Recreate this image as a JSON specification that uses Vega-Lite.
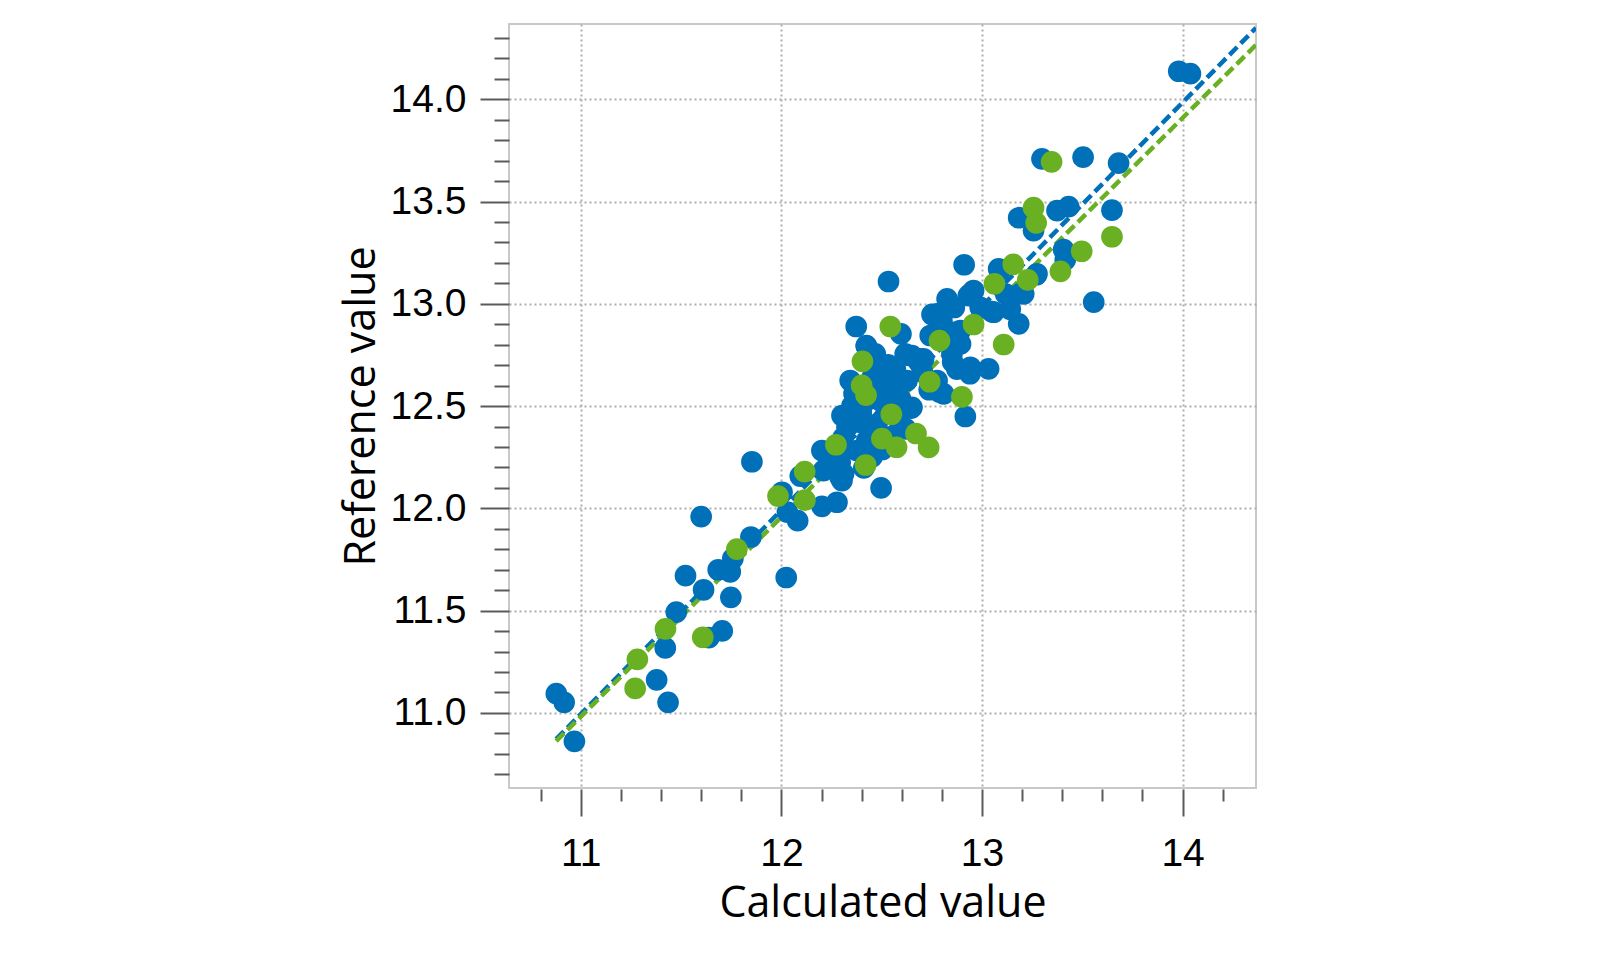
{
  "$schema": "https://vega.github.io/schema/vega-lite/v6.json",
  "width": 747,
  "height": 764,
  "autosize": {"type": "none"},
  "padding": {"left": 509, "top": 24, "right": 344, "bottom": 172},
  "background": "white",
  "config": {
    "view": {"stroke": "#c9c9c9", "strokeWidth": 2},
    "axis": {"domain": false, "titleFontWeight": "normal"}
  },
  "layer": [
    {
      "data": {
        "values": [
          {"set": "calibration", "x": 10.877, "y": 10.872},
          {"set": "calibration", "x": 14.366, "y": 14.349},
          {"set": "validation", "x": 10.877, "y": 10.862},
          {"set": "validation", "x": 14.366, "y": 14.266}
        ]
      },
      "mark": {"type": "line", "strokeDash": [11, 5], "strokeWidth": 4.5, "clip": true},
      "encoding": {
        "x": {
          "field": "x", "type": "quantitative",
          "scale": {"domain": [10.642, 14.366], "nice": false, "zero": false},
          "axis": {
            "orient": "bottom", "offset": 1,
            "values": [11, 12, 13, 14], "format": "d",
            "tickSize": 27, "tickWidth": 2, "tickColor": "#5a5a5a",
            "labelFont": "Liberation Sans", "labelFontSize": 39, "labelColor": "#000000", "labelPadding": 18,
            "grid": true, "gridColor": "#adadad", "gridWidth": 2, "gridDash": [2, 3],
            "title": "Calculated value", "titleFont": "Open Sans", "titleFontSize": 43, "titleColor": "#000000", "titlePadding": 9
          }
        },
        "y": {
          "field": "y", "type": "quantitative",
          "scale": {"domain": [10.633, 14.368], "nice": false, "zero": false},
          "axis": {
            "orient": "left", "offset": 0,
            "values": [11, 11.5, 12, 12.5, 13, 13.5, 14], "format": ".1f",
            "tickSize": 29, "tickWidth": 2, "tickColor": "#5a5a5a",
            "labelFont": "Liberation Sans", "labelFontSize": 39, "labelColor": "#000000", "labelPadding": 14,
            "grid": true, "gridColor": "#adadad", "gridWidth": 2, "gridDash": [2, 3],
            "title": "Reference value", "titleFont": "Open Sans", "titleFontSize": 43, "titleColor": "#000000", "titlePadding": 7
          }
        },
        "color": {
          "field": "set", "type": "nominal",
          "scale": {"domain": ["calibration", "validation"], "range": ["#0070b9", "#6ab023"]},
          "legend": null
        }
      }
    },
    {
      "data": {
        "values": [
          {"set": "calibration", "x": 10.878, "y": 11.094},
          {"set": "calibration", "x": 10.917, "y": 11.052},
          {"set": "calibration", "x": 10.968, "y": 10.861},
          {"set": "calibration", "x": 11.378, "y": 11.162},
          {"set": "calibration", "x": 11.435, "y": 11.052},
          {"set": "calibration", "x": 11.421, "y": 11.318},
          {"set": "calibration", "x": 11.476, "y": 11.493},
          {"set": "calibration", "x": 11.522, "y": 11.671},
          {"set": "calibration", "x": 11.612, "y": 11.602},
          {"set": "calibration", "x": 11.638, "y": 11.368},
          {"set": "calibration", "x": 11.705, "y": 11.401},
          {"set": "calibration", "x": 11.748, "y": 11.565},
          {"set": "calibration", "x": 11.600, "y": 11.960},
          {"set": "calibration", "x": 11.685, "y": 11.700},
          {"set": "calibration", "x": 11.745, "y": 11.690},
          {"set": "calibration", "x": 11.758, "y": 11.755},
          {"set": "calibration", "x": 11.848, "y": 11.860},
          {"set": "calibration", "x": 11.853, "y": 12.228},
          {"set": "calibration", "x": 12.024, "y": 11.662},
          {"set": "calibration", "x": 12.003, "y": 12.079},
          {"set": "calibration", "x": 12.030, "y": 11.982},
          {"set": "calibration", "x": 12.081, "y": 11.940},
          {"set": "calibration", "x": 12.094, "y": 12.158},
          {"set": "calibration", "x": 12.202, "y": 12.010},
          {"set": "calibration", "x": 12.277, "y": 12.030},
          {"set": "calibration", "x": 12.202, "y": 12.283},
          {"set": "calibration", "x": 12.210, "y": 12.185},
          {"set": "calibration", "x": 12.260, "y": 12.234},
          {"set": "calibration", "x": 12.293, "y": 12.152},
          {"set": "calibration", "x": 12.293, "y": 12.225},
          {"set": "calibration", "x": 12.310, "y": 12.169},
          {"set": "calibration", "x": 12.302, "y": 12.136},
          {"set": "calibration", "x": 12.227, "y": 12.200},
          {"set": "calibration", "x": 12.343, "y": 12.429},
          {"set": "calibration", "x": 12.302, "y": 12.454},
          {"set": "calibration", "x": 12.360, "y": 12.462},
          {"set": "calibration", "x": 12.409, "y": 12.429},
          {"set": "calibration", "x": 12.327, "y": 12.397},
          {"set": "calibration", "x": 12.476, "y": 12.405},
          {"set": "calibration", "x": 12.593, "y": 12.405},
          {"set": "calibration", "x": 12.426, "y": 12.332},
          {"set": "calibration", "x": 12.377, "y": 12.283},
          {"set": "calibration", "x": 12.493, "y": 12.299},
          {"set": "calibration", "x": 12.497, "y": 12.100},
          {"set": "calibration", "x": 12.411, "y": 12.198},
          {"set": "calibration", "x": 12.443, "y": 12.535},
          {"set": "calibration", "x": 12.493, "y": 12.527},
          {"set": "calibration", "x": 12.651, "y": 12.494},
          {"set": "calibration", "x": 12.343, "y": 12.625},
          {"set": "calibration", "x": 12.509, "y": 12.674},
          {"set": "calibration", "x": 12.543, "y": 12.609},
          {"set": "calibration", "x": 12.626, "y": 12.625},
          {"set": "calibration", "x": 12.373, "y": 12.889},
          {"set": "calibration", "x": 12.596, "y": 12.853},
          {"set": "calibration", "x": 12.423, "y": 12.796},
          {"set": "calibration", "x": 12.468, "y": 12.755},
          {"set": "calibration", "x": 12.617, "y": 12.755},
          {"set": "calibration", "x": 12.692, "y": 12.731},
          {"set": "calibration", "x": 12.534, "y": 13.109},
          {"set": "calibration", "x": 12.911, "y": 13.191},
          {"set": "calibration", "x": 12.776, "y": 12.951},
          {"set": "calibration", "x": 12.826, "y": 13.024},
          {"set": "calibration", "x": 12.942, "y": 13.049},
          {"set": "calibration", "x": 12.751, "y": 12.948},
          {"set": "calibration", "x": 12.742, "y": 12.845},
          {"set": "calibration", "x": 12.850, "y": 12.755},
          {"set": "calibration", "x": 12.942, "y": 12.690},
          {"set": "calibration", "x": 13.033, "y": 12.682},
          {"set": "calibration", "x": 12.709, "y": 12.731},
          {"set": "calibration", "x": 12.651, "y": 12.747},
          {"set": "calibration", "x": 12.776, "y": 12.625},
          {"set": "calibration", "x": 12.809, "y": 12.560},
          {"set": "calibration", "x": 12.917, "y": 12.449},
          {"set": "calibration", "x": 12.789, "y": 12.569},
          {"set": "calibration", "x": 12.737, "y": 12.580},
          {"set": "calibration", "x": 12.854, "y": 12.715},
          {"set": "calibration", "x": 12.875, "y": 12.681},
          {"set": "calibration", "x": 12.940, "y": 12.658},
          {"set": "calibration", "x": 12.800, "y": 12.918},
          {"set": "calibration", "x": 12.892, "y": 12.869},
          {"set": "calibration", "x": 12.958, "y": 13.065},
          {"set": "calibration", "x": 12.991, "y": 12.983},
          {"set": "calibration", "x": 13.058, "y": 12.959},
          {"set": "calibration", "x": 13.083, "y": 13.171},
          {"set": "calibration", "x": 13.183, "y": 12.902},
          {"set": "calibration", "x": 13.208, "y": 13.049},
          {"set": "calibration", "x": 13.141, "y": 12.973},
          {"set": "calibration", "x": 13.274, "y": 13.147},
          {"set": "calibration", "x": 13.407, "y": 13.265},
          {"set": "calibration", "x": 13.415, "y": 13.215},
          {"set": "calibration", "x": 13.557, "y": 13.008},
          {"set": "calibration", "x": 13.183, "y": 13.421},
          {"set": "calibration", "x": 13.257, "y": 13.358},
          {"set": "calibration", "x": 13.374, "y": 13.456},
          {"set": "calibration", "x": 13.432, "y": 13.475},
          {"set": "calibration", "x": 13.648, "y": 13.458},
          {"set": "calibration", "x": 13.299, "y": 13.709},
          {"set": "calibration", "x": 13.504, "y": 13.717},
          {"set": "calibration", "x": 13.681, "y": 13.688},
          {"set": "calibration", "x": 13.981, "y": 14.137},
          {"set": "calibration", "x": 14.039, "y": 14.125},
          {"set": "calibration", "x": 12.620, "y": 12.389},
          {"set": "calibration", "x": 12.594, "y": 12.535},
          {"set": "calibration", "x": 12.646, "y": 12.490},
          {"set": "calibration", "x": 12.568, "y": 12.591},
          {"set": "calibration", "x": 12.516, "y": 12.636},
          {"set": "calibration", "x": 12.461, "y": 12.389},
          {"set": "calibration", "x": 12.385, "y": 12.422},
          {"set": "calibration", "x": 12.451, "y": 12.636},
          {"set": "calibration", "x": 12.568, "y": 12.681},
          {"set": "calibration", "x": 12.424, "y": 12.793},
          {"set": "calibration", "x": 12.503, "y": 12.524},
          {"set": "calibration", "x": 12.307, "y": 12.344},
          {"set": "calibration", "x": 12.294, "y": 12.288},
          {"set": "calibration", "x": 12.255, "y": 12.209},
          {"set": "calibration", "x": 12.438, "y": 12.310},
          {"set": "calibration", "x": 12.503, "y": 12.288},
          {"set": "calibration", "x": 12.854, "y": 12.861},
          {"set": "calibration", "x": 12.893, "y": 12.804},
          {"set": "calibration", "x": 12.685, "y": 12.715},
          {"set": "calibration", "x": 12.633, "y": 12.748},
          {"set": "calibration", "x": 13.049, "y": 12.962},
          {"set": "calibration", "x": 13.193, "y": 13.052},
          {"set": "calibration", "x": 13.089, "y": 13.164},
          {"set": "calibration", "x": 13.271, "y": 13.142},
          {"set": "calibration", "x": 12.932, "y": 13.040},
          {"set": "calibration", "x": 12.352, "y": 12.502},
          {"set": "calibration", "x": 12.398, "y": 12.474},
          {"set": "calibration", "x": 12.462, "y": 12.583},
          {"set": "calibration", "x": 12.521, "y": 12.462},
          {"set": "calibration", "x": 12.558, "y": 12.518},
          {"set": "calibration", "x": 12.532, "y": 12.702},
          {"set": "calibration", "x": 12.603, "y": 12.621},
          {"set": "calibration", "x": 12.482, "y": 12.681},
          {"set": "calibration", "x": 12.362, "y": 12.561},
          {"set": "calibration", "x": 12.452, "y": 12.252},
          {"set": "calibration", "x": 12.553, "y": 12.352},
          {"set": "calibration", "x": 12.702, "y": 12.668},
          {"set": "calibration", "x": 12.862, "y": 12.982},
          {"set": "calibration", "x": 13.118, "y": 13.048},
          {"set": "validation", "x": 11.271, "y": 11.120},
          {"set": "validation", "x": 11.282, "y": 11.262},
          {"set": "validation", "x": 11.422, "y": 11.411},
          {"set": "validation", "x": 11.608, "y": 11.370},
          {"set": "validation", "x": 11.778, "y": 11.801},
          {"set": "validation", "x": 11.983, "y": 12.060},
          {"set": "validation", "x": 12.117, "y": 12.040},
          {"set": "validation", "x": 12.116, "y": 12.180},
          {"set": "validation", "x": 12.272, "y": 12.311},
          {"set": "validation", "x": 12.420, "y": 12.212},
          {"set": "validation", "x": 12.404, "y": 12.719},
          {"set": "validation", "x": 12.400, "y": 12.601},
          {"set": "validation", "x": 12.422, "y": 12.554},
          {"set": "validation", "x": 12.543, "y": 12.889},
          {"set": "validation", "x": 12.548, "y": 12.460},
          {"set": "validation", "x": 12.501, "y": 12.341},
          {"set": "validation", "x": 12.574, "y": 12.299},
          {"set": "validation", "x": 12.671, "y": 12.366},
          {"set": "validation", "x": 12.734, "y": 12.298},
          {"set": "validation", "x": 12.739, "y": 12.619},
          {"set": "validation", "x": 12.788, "y": 12.820},
          {"set": "validation", "x": 12.900, "y": 12.545},
          {"set": "validation", "x": 12.958, "y": 12.899},
          {"set": "validation", "x": 13.108, "y": 12.801},
          {"set": "validation", "x": 13.062, "y": 13.098},
          {"set": "validation", "x": 13.156, "y": 13.193},
          {"set": "validation", "x": 13.228, "y": 13.117},
          {"set": "validation", "x": 13.391, "y": 13.159},
          {"set": "validation", "x": 13.497, "y": 13.257},
          {"set": "validation", "x": 13.648, "y": 13.328},
          {"set": "validation", "x": 13.257, "y": 13.470},
          {"set": "validation", "x": 13.270, "y": 13.396},
          {"set": "validation", "x": 13.347, "y": 13.694}
        ]
      },
      "mark": {"type": "point", "filled": true, "opacity": 1, "size": 470, "shape": "circle"},
      "encoding": {
        "x": {
          "field": "x", "type": "quantitative",
          "axis": {
            "orient": "bottom", "offset": 1,
            "values": [10.8, 11.2, 11.4, 11.6, 11.8, 12.2, 12.4, 12.6, 12.8, 13.2, 13.4, 13.6, 13.8, 14.2],
            "tickSize": 12, "tickWidth": 2, "tickColor": "#5a5a5a",
            "labels": false, "grid": false, "title": null
          }
        },
        "y": {
          "field": "y", "type": "quantitative",
          "axis": {
            "orient": "left", "offset": 0,
            "values": [10.7, 10.8, 10.9, 11.1, 11.2, 11.3, 11.4, 11.6, 11.7, 11.8, 11.9, 12.1, 12.2, 12.3, 12.4, 12.6, 12.7, 12.8, 12.9, 13.1, 13.2, 13.3, 13.4, 13.6, 13.7, 13.8, 13.9, 14.1, 14.2, 14.3],
            "tickSize": 15, "tickWidth": 2, "tickColor": "#5a5a5a",
            "labels": false, "grid": false, "title": null
          }
        },
        "color": {
          "field": "set", "type": "nominal",
          "scale": {"domain": ["calibration", "validation"], "range": ["#0070b9", "#6ab023"]},
          "legend": null
        }
      }
    }
  ],
  "resolve": {"axis": {"x": "independent", "y": "independent"}}
}
